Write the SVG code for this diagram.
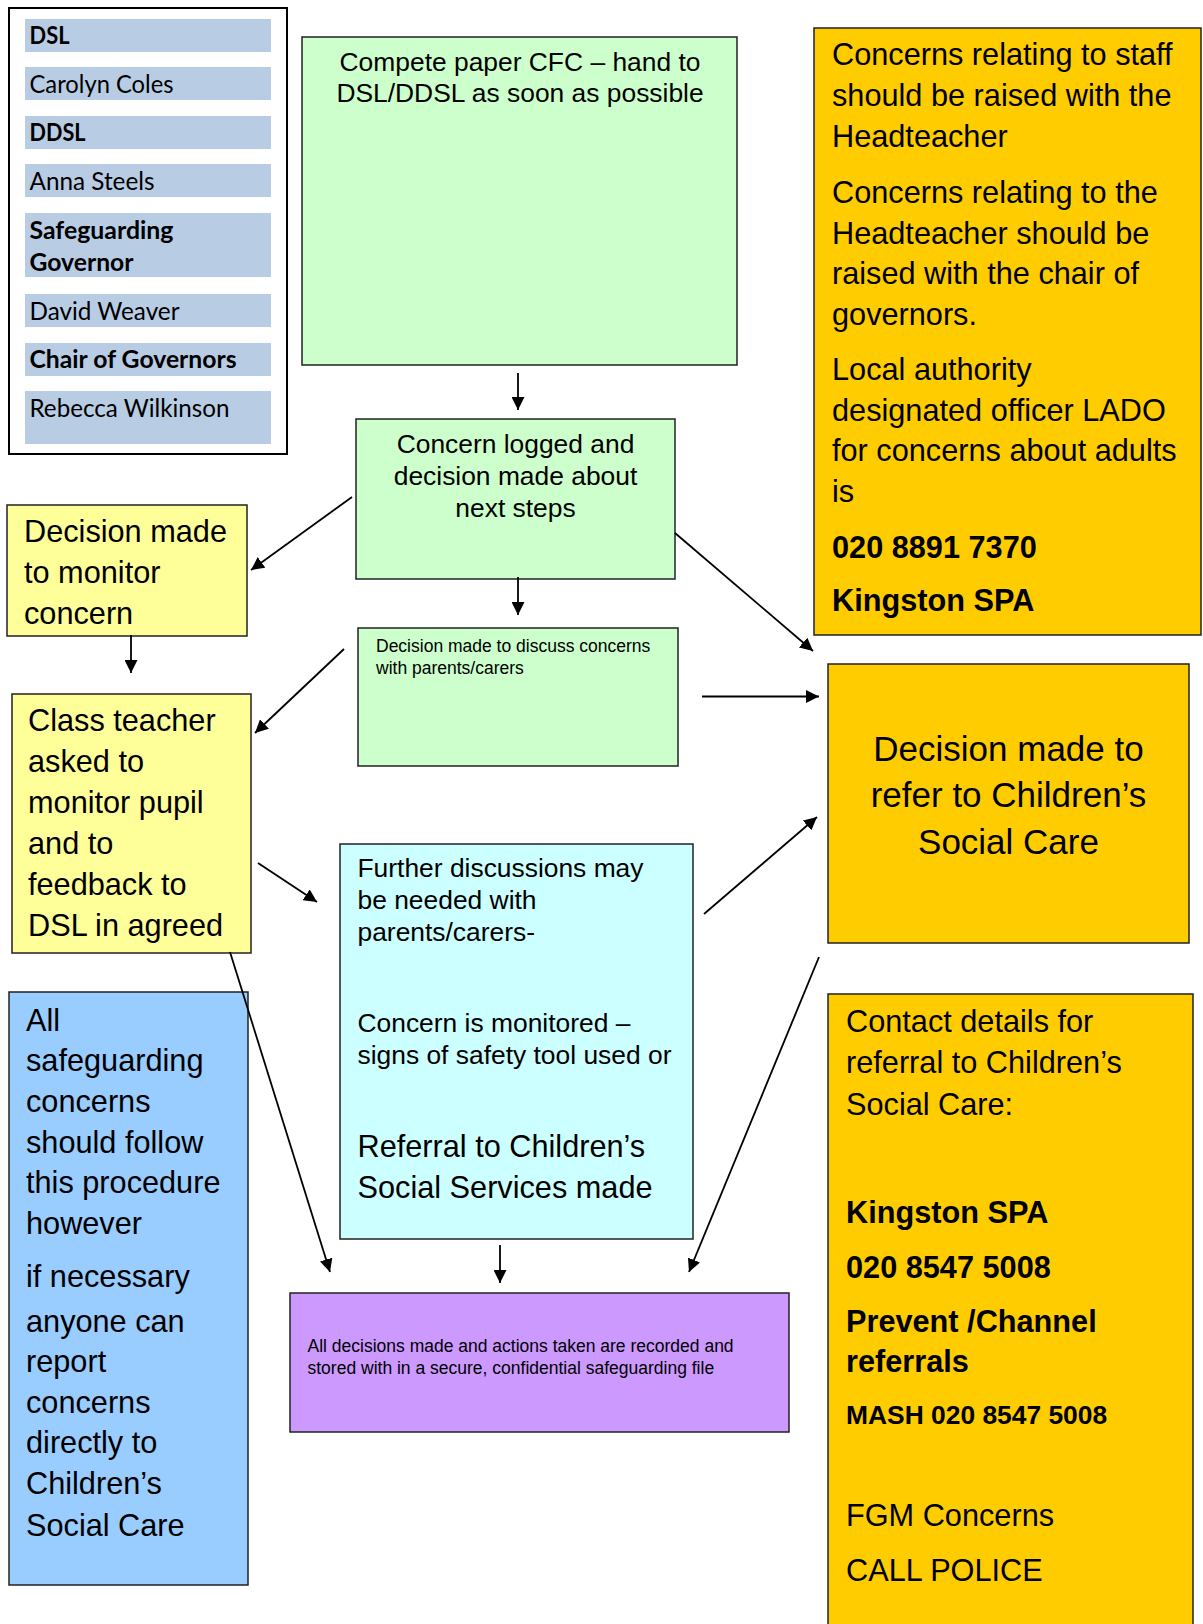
<svg xmlns="http://www.w3.org/2000/svg" width="1203" height="1624" viewBox="0 0 1203 1624">
<style>
  .bx{stroke:#222;stroke-width:1.5}
  .grn{fill:#CCFFCC}
  .cyn{fill:#CCFFFF}
  .yel{fill:#FFFF99}
  .org{fill:#FFCC00}
  .blu{fill:#99CCFF}
  .pur{fill:#CC99FF}
  .row{fill:#B8CCE4}
  text{font-family:"Liberation Sans",Arial,sans-serif;fill:#000}
  .lst{font-family:Lato,"Open Sans",sans-serif;font-size:25.5px}
  .b{font-weight:bold}
  .f17{font-size:17.5px}
  .f26{font-size:26.4px}
  .f31{font-size:30.7px}
  .f35{font-size:35px}
  .c{text-anchor:middle}
  #connectors line{stroke:#000;stroke-width:1.8;marker-end:url(#ah)}
</style>
<defs>
  <marker id="ah" markerUnits="userSpaceOnUse" markerWidth="14" markerHeight="13" refX="13" refY="6.5" orient="auto">
    <path d="M0,0 L13,6.5 L0,13 z" fill="#000"/>
  </marker>
</defs>
<rect width="1203" height="1624" fill="#fff"/>

<g id="contacts-list">
  <rect x="10" y="9" width="278" height="446" fill="#888"/>
  <rect x="9" y="8" width="278" height="446" fill="#fff" stroke="#000" stroke-width="2"/>
  <rect class="row" x="25" y="19" width="246" height="33"/>
  <rect class="row" x="25" y="67" width="246" height="33"/>
  <rect class="row" x="25" y="116" width="246" height="33"/>
  <rect class="row" x="25" y="164" width="246" height="33"/>
  <rect class="row" x="25" y="213" width="246" height="64"/>
  <rect class="row" x="25" y="294" width="246" height="33"/>
  <rect class="row" x="25" y="343" width="246" height="33"/>
  <rect class="row" x="25" y="391" width="246" height="53"/>
  <text class="lst b" x="29.5" y="44" textLength="40" lengthAdjust="spacingAndGlyphs">DSL</text>
  <text class="lst" x="29.5" y="93" textLength="144" lengthAdjust="spacingAndGlyphs">Carolyn Coles</text>
  <text class="lst b" x="29.5" y="141" textLength="56" lengthAdjust="spacingAndGlyphs">DDSL</text>
  <text class="lst" x="29.5" y="189.5" textLength="125" lengthAdjust="spacingAndGlyphs">Anna Steels</text>
  <text class="lst b" x="29.5" y="239" textLength="144" lengthAdjust="spacingAndGlyphs">Safeguarding</text>
  <text class="lst b" x="29.5" y="270.5" textLength="104" lengthAdjust="spacingAndGlyphs">Governor</text>
  <text class="lst" x="29.5" y="319.5" textLength="150" lengthAdjust="spacingAndGlyphs">David Weaver</text>
  <text class="lst b" x="29.5" y="368" textLength="207" lengthAdjust="spacingAndGlyphs">Chair of Governors</text>
  <text class="lst" x="29.5" y="416.5" textLength="200" lengthAdjust="spacingAndGlyphs">Rebecca Wilkinson</text>
</g>

<g id="node-compete">
  <rect class="bx grn" x="302" y="37" width="435" height="328"/>
  <text class="f26 c" x="520" y="71">Compete paper CFC – hand to</text>
  <text class="f26 c" x="520" y="101.5">DSL/DDSL as soon as possible</text>
</g>

<g id="node-logged">
  <rect class="bx grn" x="356" y="419" width="319" height="160"/>
  <text class="f26 c" x="515.5" y="453">Concern logged and</text>
  <text class="f26 c" x="515.5" y="485">decision made about</text>
  <text class="f26 c" x="515.5" y="517">next steps</text>
</g>

<g id="node-discuss">
  <rect class="bx grn" x="358" y="628" width="320" height="138"/>
  <text class="f17" x="376" y="651.5">Decision made to discuss concerns</text>
  <text class="f17" x="376" y="673.5">with parents/carers</text>
</g>

<g id="node-monitor">
  <rect class="bx yel" x="7" y="505" width="240" height="131"/>
  <text class="f31" x="24" y="542">Decision made</text>
  <text class="f31" x="24" y="583">to monitor</text>
  <text class="f31" x="24" y="624">concern</text>
</g>

<g id="node-class">
  <rect class="bx yel" x="12" y="694" width="239" height="259"/>
  <text class="f31" x="28" y="731">Class teacher</text>
  <text class="f31" x="28" y="772">asked to</text>
  <text class="f31" x="28" y="813">monitor pupil</text>
  <text class="f31" x="28" y="853.5">and to</text>
  <text class="f31" x="28" y="894.5">feedback to</text>
  <text class="f31" x="28" y="936">DSL in agreed</text>
</g>

<g id="node-further">
  <rect class="bx cyn" x="340" y="844" width="353" height="395"/>
  <text class="f26" x="357.5" y="877">Further discussions may</text>
  <text class="f26" x="357.5" y="909">be needed with</text>
  <text class="f26" x="357.5" y="941">parents/carers-</text>
  <text class="f26" x="357.5" y="1032">Concern is monitored –</text>
  <text class="f26" x="357.5" y="1063.5">signs of safety tool used or</text>
  <text class="f31" x="357.5" y="1157">Referral to Children’s</text>
  <text class="f31" x="357.5" y="1197.5">Social Services made</text>
</g>

<g id="node-staff">
  <rect class="bx org" x="814" y="28" width="387" height="607"/>
  <text class="f31" x="832" y="64.5">Concerns relating to staff</text>
  <text class="f31" x="832" y="106">should be raised with the</text>
  <text class="f31" x="832" y="147">Headteacher</text>
  <text class="f31" x="832" y="202.5">Concerns relating to the</text>
  <text class="f31" x="832" y="243.5">Headteacher should be</text>
  <text class="f31" x="832" y="284">raised with the chair of</text>
  <text class="f31" x="832" y="324.5">governors.</text>
  <text class="f31" x="832" y="380">Local authority</text>
  <text class="f31" x="832" y="420.5">designated officer LADO</text>
  <text class="f31" x="832" y="461">for concerns about adults</text>
  <text class="f31" x="832" y="501.5">is</text>
  <text class="f31 b" x="832" y="558">020 8891 7370</text>
  <text class="f31 b" x="832" y="611">Kingston SPA</text>
</g>

<g id="node-refer">
  <rect class="bx org" x="828" y="664" width="361" height="279"/>
  <text class="f35 c" x="1008.5" y="761">Decision made to</text>
  <text class="f35 c" x="1008.5" y="807">refer to Children’s</text>
  <text class="f35 c" x="1008.5" y="854">Social Care</text>
</g>

<g id="node-contact">
  <rect class="bx org" x="828" y="994" width="365" height="640"/>
  <text class="f31" x="846" y="1032">Contact details for</text>
  <text class="f31" x="846" y="1072.5">referral to Children’s</text>
  <text class="f31" x="846" y="1114.5">Social Care:</text>
  <text class="f31 b" x="846" y="1223">Kingston SPA</text>
  <text class="f31 b" x="846" y="1277.5">020 8547 5008</text>
  <text class="f31 b" x="846" y="1332">Prevent /Channel</text>
  <text class="f31 b" x="846" y="1372">referrals</text>
  <text class="f26 b" x="846" y="1423.5">MASH 020 8547 5008</text>
  <text class="f31" x="846" y="1526">FGM Concerns</text>
  <text class="f31" x="846" y="1580.5">CALL POLICE</text>
</g>

<g id="node-all">
  <rect class="bx blu" x="9" y="992" width="239" height="593"/>
  <text class="f31" x="26" y="1030.5">All</text>
  <text class="f31" x="26" y="1071">safeguarding</text>
  <text class="f31" x="26" y="1111.5">concerns</text>
  <text class="f31" x="26" y="1152.5">should follow</text>
  <text class="f31" x="26" y="1193">this procedure</text>
  <text class="f31" x="26" y="1234">however</text>
  <text class="f31" x="26" y="1286.5">if necessary</text>
  <text class="f31" x="26" y="1331.5">anyone can</text>
  <text class="f31" x="26" y="1371.5">report</text>
  <text class="f31" x="26" y="1412.5">concerns</text>
  <text class="f31" x="26" y="1453">directly to</text>
  <text class="f31" x="26" y="1494">Children’s</text>
  <text class="f31" x="26" y="1536">Social Care</text>
</g>

<g id="node-recorded">
  <rect class="bx pur" x="290" y="1293" width="499" height="139"/>
  <text class="f17" x="307.5" y="1352">All decisions made and actions taken are recorded and</text>
  <text class="f17" x="307.5" y="1374">stored with in a secure, confidential safeguarding file</text>
</g>

<g id="connectors">
  <line x1="518" y1="373" x2="518" y2="410"/>
  <line x1="352" y1="497" x2="251" y2="570"/>
  <line x1="518" y1="577" x2="518" y2="615"/>
  <line x1="675" y1="533" x2="813" y2="651"/>
  <line x1="131" y1="635" x2="131" y2="673"/>
  <line x1="344" y1="649" x2="255" y2="733"/>
  <line x1="702" y1="696.5" x2="819" y2="696.5"/>
  <line x1="258" y1="863" x2="317" y2="902"/>
  <line x1="704" y1="914" x2="817" y2="817"/>
  <line x1="500" y1="1245" x2="500" y2="1283"/>
  <line x1="230" y1="952" x2="330" y2="1272"/>
  <line x1="819" y1="957" x2="689" y2="1272"/>
</g>
</svg>
